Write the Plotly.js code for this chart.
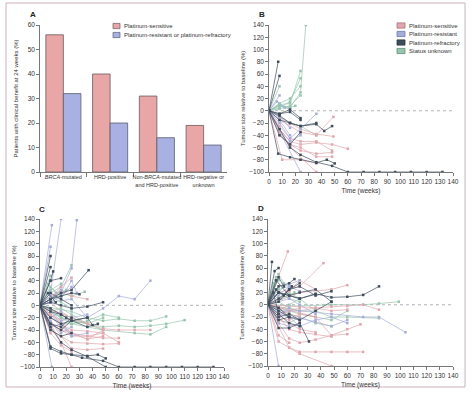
<!DOCTYPE html>
<html>
<head>
<meta charset="utf-8">
<script src="https://cdn.plot.ly/plotly-3.0.1.min.js"></script>
<style>html,body{margin:0;padding:0;background:#fff;}#chart{width:474px;height:395px;}</style>
</head>
<body>
<div id="chart"></div>
<script>
// ---------- Panel A data ----------
const categoriesA = ['<i>BRCA</i>-mutated', 'HRD-positive', 'Non-<i>BRCA</i>-mutated<br>and HRD-positive', 'HRD-negative or<br>unknown'];
const sensitiveBenefit = [56, 40, 31, 19];
const resistantBenefit = [32, 20, 14, 11];
const legendA = ['Platinum-sensitive', 'Platinum-resistant or platinum-refractory'];

// ---------- Spider legend ----------
const statusCodes = ['S', 'R', 'F', 'U'];
const statusNames = ['Platinum-sensitive', 'Platinum-resistant', 'Platinum-refractory', 'Status unknown'];

// ---------- Panel B data ----------
const B_status = ['U','U','U','U','U','F','F','U','R','U','U','F','F','R','F','F','F','S','S','S','S','S','S','R','R','R','S','F','U','F','R','S','R'];
const B_weeks = [
 [0,8,16,24,28],[0,8,16,24],[0,8,16,24],[0,8,16,24],[0,8,16,24],[0,7],[0,8],[0,8],[0,8],[0,8,16,20],[0,8,16],
 [0,8,16,24,36,42,48],[0,8,16,24],[0,8,16,24,36],[0,8,16,24],[0,7,16,24,36,44,50],
 [0,8,16,24,36,48,60,72,84,96,108,120,132],
 [0,8,16,24,36,48,60],[0,8,16,24,36,48],[0,10,24,36],[0,8,16,24,36,48],[0,8,24,36,49],[0,16,24,36,49],
 [0,8,16,24],[0,8,16],[0,24],[0,16,36],[0,8,16,24],[0,8,16,24,36],[0,8,16,24,36],[0,6,12],[0,8,16,24,36,48],[0,8,16]
];
const B_values = [
 [0,8,5,30,140],[0,10,12,65],[0,5,15,53],[0,12,20,40],[0,3,8,25],[0,80],[0,57],[0,40],[0,25],[0,10,5,8],[0,8,2],
 [0,-8,-20,-25,-22,-33,-25],[0,-5,2,-12],[0,-20,-45,-30,-5],[0,-40,-55,-35],[0,-70,-76,-80,-85,-80,-86],
 [0,-30,-60,-72,-84,-90,-100,-100,-100,-100,-100,-100,-100],
 [0,-30,-50,-55,-52,-55,-62],[0,-40,-55,-60,-75,-75],[0,-80,-80,-86],[0,-25,-45,-50,-50,-65],[0,-15,-35,-40,-10],[0,-20,-30,-38,-42],
 [0,-30,-50,-40],[0,-15,-40],[0,-100],[0,-60,-100],[0,-5,-2,-15],[0,-10,-20,-25,-40],[0,-15,-20,-25,-20],[0,15,5],[0,-35,-55,-65,-70,-68],[0,-10,-28]
];

// ---------- Panel C data ----------
const C_status = ['R','R','R','R','F','F','F','F','U','U','S','U','R','F','F','U','S','R','F','U','U','U','S','S','S','F','F','F','R','S','F','F','F','S','S','U','R','U','S','R','F','S','U','F','R','S','U','F','S','R',
 'U','R','S','F','U','R','S','U','F','R','S'];
const C_weeks = [
 [0,9],[0,8,16],[0,8,16,24,28],[0,8],[0,8],[0,8],[0,8,10],[0,8,16,24,37],[0,8],[0,8,16],[0,8,16,24],[0,8,16,24],[0,8,16,24,28],
 [0,8,16,24,30],[0,8,16],[0,8,16,24,34],[0,8,16,24,36],[0,8,24,36,48,60,72,84],[0,8,16,24,36,48],
 [0,24,36,48,60,72,84,96],[0,16,36,48,60,72,84,96,110],[0,24,48,72,84,96],[0,36,48,60,72,84],
 [0,8,24,36,48,60],[0,8,24,36,48,60],[0,8,16,24,36,44,50],[0,8,16,24,32,48,60,72,84,96,108,120,132],
 [0,8,16,24,36,50],[0,9],[0,16,24],[0,8,16,24,36,40],[0,8,16,24],[0,8,16,20],[0,8,16,24,36,48],[0,16,24,36,48],
 [0,8,16,24,36,48],[0,8,16,24],[0,8,16,24,36],[0,8,16],[0,8,16,24],[0,8,16,24,36,44],[0,8,16,24,36,48],
 [0,8,16,24,36,48,60],[0,8,16,24],[0,8,16,24,36],[0,8,16,24],[0,8,16],[0,6,12],[0,24,36,48],[0,8,16,24,36],
 [0,8,16,24],[0,8,16],[0,8,16,24,36],[0,8,16,24],[0,8,16,24,36,48],[0,8,16,24],[0,8,16,24],[0,6,12,20],[0,8,16,24,36],[0,8,16],[0,16,24,36,48,60]
];
const C_values = [
 [0,130],[0,20,140],[0,10,20,60,138],[0,95],[0,80],[0,62],[0,40,55],[0,10,20,25,57],[0,48],[0,25,35],[0,10,30,45],[0,20,30,65],[0,15,10,40,20],
 [0,10,15,20,18],[0,40,44],[0,5,20,15,22],[0,10,25,15,10],[0,5,10,-20,-5,15,10,40],[0,5,0,-5,-2,5],
 [0,-10,-20,-25,-22,-25,-25,-18],[0,-20,-30,-35,-33,-35,-33,-30,-24],[0,-20,-40,-45,-47,-35],[0,-30,-38,-40,-40,-40],
 [0,-30,-50,-50,-53,-53],[0,-40,-60,-62,-63,-62],[0,-67,-75,-80,-82,-80,-86],[0,-70,-78,-80,-85,-90,-100,-100,-100,-100,-100,-100,-100],
 [0,-35,-60,-72,-83,-100],[0,-100],[0,-60,-100],[0,-20,-30,-25,-20,-32],[0,-40,-50,-45],[0,-10,-15,-20],[0,-30,-40,-45,-55,-50],[0,-50,-70,-72,-70],
 [0,-10,-20,-25,-30,-20],[0,-25,-45,-35],[0,-10,-5,-15,-30],[0,15,20],[0,5,15,30],[0,-5,-15,-25,-35,-30],[0,-10,-30,-40,-42,-45],
 [0,-15,-30,-30,-25,-15,-20],[0,-30,-35,-20],[0,-20,-30,-50,-45],[0,-45,-65,-75],[0,30,15],[0,20,5],[0,-45,-55,-40],[0,-10,-25,-20,-15],
 [0,15,5,-5],[0,-20,-10],[0,-15,-25,-20,-30],[0,20,10,0],[0,-5,-20,-30,-35,-40],[0,-35,-30,-45],[0,5,-10,-20],[0,35,20,25],[0,-30,-40,-25,-20],[0,10,25],[0,-35,-45,-50,-45,-60]
];

// ---------- Panel D data ----------
const D_status = ['F','R','U','S','S','S','F','F','R','S','F','S','S','U','S','F','F','F','U','U','U','R','S','F','S','U','F','S','R','U','F','S','U','F','F','U','R','S','F','U','R','S','F','U','S','R',
 'U','R','F','U','S','U','F','R','U','S','F'];
const D_weeks = [
 [0,8,24,36,48,60,72,84],[0,8,24,48,72,84,104],[0,24,48,72,84,99],[0,16,24,36,48,60,72],[0,15],[0,8,24,42],[0,3],[0,5,8],[0,8],
 [0,8,24,48],[0,8,16,24,31],[0,36,48,60,70],[0,8,16,24,36,48,60],[0,24,36,48,60,84],[0,24,48,60],[0,8,16,20],[0,8,16,24,36,48],
 [0,6,16,24,36],[0,6],[0,4,8],[0,8,16],[0,8,16,24],[0,8,16,24,36],[0,8,16,24,36,48],[0,24,36,48,60,72,84],[0,16,24,36,48],
 [0,8,16],[0,16,24,36,48],[0,8,16,24],[0,8,16,24,36,48,60],[0,8,16,24],[0,8,16,24,36],[0,8,16,24],[0,4,8],[0,8,16,24,36,48],
 [0,16,24,36],[0,8,16,24,36,48,60],[0,8,16],[0,8,16,24],[0,8,16,24],[0,12,24],[0,36,48,60],[0,8,12],[0,10,20],[0,8,16,24,36],[0,16,24,36,48,60],
 [0,8,16,24],[0,8,16],[0,6,12,18],[0,8,16,24],[0,8,16,24],[0,4,8,16],[0,8,16,24],[0,8,16,24,36],[0,8,12],[0,8,16,24],[0,8,16]
];
const D_values = [
 [0,20,10,18,12,13,16,30],[0,-10,-10,-15,-20,-20,-45],[0,-2,0,0,2,5],[0,-70,-77,-77,-77,-77,-77],[0,87],[0,20,30,68],[0,70],[0,55,60],[0,-100],
 [0,-60,-80,-100],[0,-38,-38,-30,-60],[0,-20,-50,-40,-32],[0,-30,-55,-62,-57,-50,-48],[0,-10,-10,-20,-20,-22],[0,20,25,32],[0,30,35,42],[0,10,25,30,15,22],
 [0,40,15,10,17],[0,45],[0,35,40],[0,25,30],[0,15,30,22],[0,10,22,40,25],[0,-5,-20,-25,-10,5],[0,-10,-5,-3,-2,0,-8],[0,-15,-20,-30,-35],
 [0,-10,-20],[0,-40,-45,-48,-52],[0,-30,-35,-30],[0,-5,-10,-15,-20,-25,-10],[0,-20,-15,-25],[0,-25,-30,-40,-45],[0,5,-5,-10],[0,20,-15],[0,20,15,20,25,5],
 [0,20,10,-10],[0,-15,-20,-22,-28,-35,-25],[0,-50,-62],[0,5,25,35],[0,-10,0,10],[0,30,40],[0,-5,-10,-8],[0,45,30],[0,10,20],[0,-20,-25,-15,-20],[0,-20,-35,-25,-20,-30],
 [0,20,10,5],[0,-20,-5],[0,25,15,30],[0,-25,-30,-20],[0,-15,-10,-5],[0,30,20,10],[0,-15,-30,-35],[0,5,10,0,-15],[0,50,35],[0,-5,-15,-20],[0,-25,-20]
];

// ---------- styling ----------
const FONT = 'Liberation Sans, Arial, sans-serif';
const TXT = '#333';
const groupColor = {S: '#e0a6ae', R: '#a6acd8', F: '#3e4c5c', U: '#96c4ae'};
const groupEdge = {S: '#b0707c', R: '#6f78b0', F: '#2a3542', U: '#5e9079'};
const W = 474, H = 395;
const px = v => v / W;
const py = v => 1 - v / H;

function spiderTrace(weeks, values, status, code, xa, ya) {
  const x = [], y = [];
  for (let i = 0; i < status.length; i++) {
    if (status[i] !== code) continue;
    for (let j = 0; j < weeks[i].length; j++) { x.push(weeks[i][j]); y.push(values[i][j]); }
    x.push(null); y.push(null);
  }
  return {
    type: 'scatter', mode: 'lines+markers', x, y, xaxis: xa, yaxis: ya,
    connectgaps: false, showlegend: false, hoverinfo: 'skip',
    line: {color: groupColor[code], width: 0.7},
    marker: {color: groupColor[code], size: 2.5, symbol: 'square'},
    cliponaxis: true
  };
}

const data = [
  {type: 'bar', x: categoriesA, y: sensitiveBenefit, name: legendA[0], xaxis: 'x', yaxis: 'y',
   marker: {color: '#e8a6a6', line: {color: '#6a5a5e', width: 0.8}}, showlegend: false, hoverinfo: 'skip'},
  {type: 'bar', x: categoriesA, y: resistantBenefit, name: legendA[1], xaxis: 'x', yaxis: 'y',
   marker: {color: '#a9b0e2', line: {color: '#5a5e70', width: 0.8}}, showlegend: false, hoverinfo: 'skip'}
];
const drawOrder = ['U', 'S', 'R', 'F'];
[['x2','y2',B_weeks,B_values,B_status],['x3','y3',C_weeks,C_values,C_status],['x4','y4',D_weeks,D_values,D_status]].forEach(p => {
  drawOrder.forEach(c => data.push(spiderTrace(p[2], p[3], p[4], c, p[0], p[1])));
});

const axBase = {
  showgrid: false, zeroline: false, showline: true, linecolor: '#555', linewidth: 0.8,
  ticks: 'outside', ticklen: 3, tickwidth: 0.8, tickcolor: '#555', tickangle: 0,
  tickfont: {family: FONT, size: 6.5, color: TXT}, fixedrange: true, automargin: false
};
const timeAxis = (dom, anchor) => Object.assign({}, axBase, {
  domain: dom, anchor: anchor, range: [0, 140], tickmode: 'linear', tick0: 0, dtick: 10,
  title: {text: 'Time (weeks)', font: {family: FONT, size: 6.5, color: TXT}, standoff: 4}
});
const sizeAxis = (dom, anchor) => Object.assign({}, axBase, {
  domain: dom, anchor: anchor, range: [-100, 140], tickmode: 'linear', tick0: -100, dtick: 20,
  title: {text: 'Tumour size relative to baseline (%)', font: {family: FONT, size: 6, color: TXT}, standoff: 3}
});

const layout = {
  width: W, height: H, margin: {l: 0, r: 0, t: 0, b: 0},
  paper_bgcolor: '#fff', plot_bgcolor: '#fff', showlegend: false,
  barmode: 'group', bargap: 0.25, bargroupgap: 0,
  font: {family: FONT, color: TXT},
  xaxis: Object.assign({}, axBase, {domain: [px(40), px(227)], anchor: 'y', type: 'category',
    tickson: 'boundaries', ticklen: 4, tickfont: {family: FONT, size: 5.5, color: TXT}}),
  yaxis: Object.assign({}, axBase, {domain: [py(172), py(25)], anchor: 'x', range: [0, 60], dtick: 10,
    title: {text: 'Patients with clinical benefit at 24 weeks (%)', font: {family: FONT, size: 6, color: TXT}, standoff: 8}}),
  xaxis2: timeAxis([px(269), px(453)], 'y2'),
  yaxis2: sizeAxis([py(172), py(25)], 'x2'),
  xaxis3: timeAxis([px(40), px(224)], 'y3'),
  yaxis3: sizeAxis([py(367), py(219)], 'x3'),
  xaxis4: timeAxis([px(268), px(453)], 'y4'),
  yaxis4: sizeAxis([py(366), py(219)], 'x4'),
  shapes: [],
  annotations: []
};

// outer frame
layout.shapes.push({type: 'rect', xref: 'paper', yref: 'paper', x0: px(6), x1: px(465), y0: py(387), y1: py(3),
  line: {color: '#cbb0bc', width: 1}, fillcolor: 'rgba(0,0,0,0)', layer: 'below'});
// dotted baselines
[['x2','y2'],['x3','y3'],['x4','y4']].forEach(a => {
  layout.shapes.push({type: 'line', xref: a[0], yref: a[1], x0: 0, x1: 140, y0: 0, y1: 0,
    line: {color: '#9aa0a6', width: 0.8, dash: 'dot'}, layer: 'below'});
});

// panel letters
[['A', 33, 15], ['B', 262, 15], ['C', 42, 209], ['D', 261, 208]].forEach(l => {
  layout.annotations.push({text: '<b>' + l[0] + '</b>', x: px(l[1]), y: py(l[2]), xref: 'paper', yref: 'paper',
    showarrow: false, font: {family: FONT, size: 8, color: '#222'}, xanchor: 'center', yanchor: 'middle'});
});

// legend A
const legA = [[26, '#e8a6a6', '#6a5a5e'], [35, '#a9b0e2', '#5a5e70']];
legA.forEach((r, i) => {
  layout.shapes.push({type: 'rect', xref: 'paper', yref: 'paper', x0: px(113), x1: px(120), y0: py(r[0] + 2.6), y1: py(r[0] - 2.6),
    fillcolor: r[1], line: {color: r[2], width: 0.7}});
  layout.annotations.push({text: legendA[i], x: px(122), y: py(r[0]), xref: 'paper', yref: 'paper', showarrow: false,
    xanchor: 'left', yanchor: 'middle', font: {family: FONT, size: 6, color: TXT}});
});

// legend B
const legBRows = [25.5, 34, 42.5, 51];
statusCodes.forEach((c, i) => {
  const yy = legBRows[i];
  layout.shapes.push({type: 'rect', xref: 'paper', yref: 'paper', x0: px(397), x1: px(405), y0: py(yy + 2.6), y1: py(yy - 2.6),
    fillcolor: groupColor[c], line: {color: groupEdge[c], width: 0.8}});
  layout.annotations.push({text: statusNames[i], x: px(407), y: py(yy), xref: 'paper', yref: 'paper', showarrow: false,
    xanchor: 'left', yanchor: 'middle', font: {family: FONT, size: 6, color: TXT}});
});

Plotly.newPlot('chart', data, layout, {staticPlot: true, displayModeBar: false});
</script>
</body>
</html>
